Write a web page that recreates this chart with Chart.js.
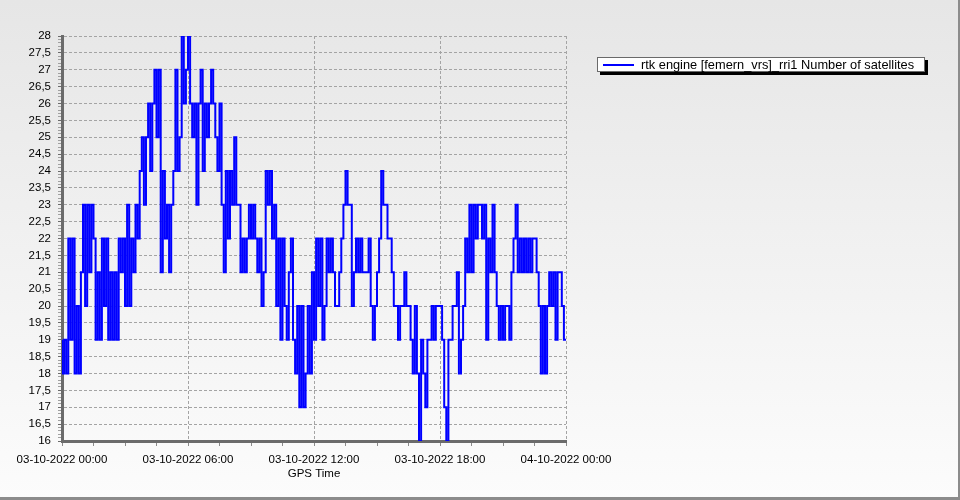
<!DOCTYPE html>
<html lang="en">
<head>
    <meta charset="UTF-8">
    <title>Number of satellites</title>
    <script src="https://cdn.jsdelivr.net/npm/chart.js"></script>
    <style>
        html, body { margin: 0; padding: 0; }
        #chart-container {
            width: 960px;
            height: 500px;
            background: linear-gradient(#e6e6e6, #fcfcfc);
        }
    </style>
</head>
<body>

<div id="chart-container">
    <canvas id="satChart"></canvas>
</div>

<script>
    // Series: one value every 6 minutes, 03-10-2022 00:00 .. 04-10-2022 00:00
    const seriesLabel = 'rtk engine [femern_vrs]_rri1 Number of satellites';
    const xTitle = 'GPS Time';
    const startDay = 3;          // 03-10-2022
    const sampleStepHours = 0.1; // 6 minutes
    const sats = [
        19,18,19,18,22,19,22,18,20,18,
        21,23,20,23,21,23,22,19,21,19,
        22,20,22,19,21,19,21,19,22,21,
        22,20,23,20,22,21,23,22,24,25,
        23,25,26,24,26,27,25,27,21,24,
        22,23,21,23,24,27,24,25,28,26,
        27,28,26,25,26,23,26,27,24,26,
        25,26,27,26,25,24,26,23,21,24,
        22,24,23,25,23,23,21,22,21,22,
        23,22,23,22,21,22,20,21,24,23,
        24,22,23,20,22,19,22,20,19,21,
        22,19,18,20,17,20,17,18,20,18,
        21,19,22,20,22,19,20,22,21,22,
        21,20,20,21,22,23,24,23,23,20,
        21,22,21,22,21,21,21,22,20,19,
        20,21,22,24,23,23,22,22,21,20,
        20,19,20,20,21,20,20,19,18,20,
        18,16,19,18,17,19,19,20,19,20,
        20,20,19,17,16,19,19,20,20,21,
        18,19,20,22,21,23,21,23,22,23,
        23,22,23,19,22,21,23,21,20,19,
        20,19,20,20,19,21,22,23,21,22,
        21,22,21,22,21,22,22,21,20,18,
        20,18,20,21,20,21,19,21,21,20,19
    ];

    // axis ticks
    const xMin = 0, xMax = 24, xMajor = 6, xMinor = 1.5;
    const yMin = 16, yMax = 28, yMajor = 0.5, yMinor = 0.1;

    const isMultiple = (v, step) => Math.abs(v / step - Math.round(v / step)) < 1e-6;

    function timeLabel(h) {
        const day = startDay + Math.floor(h / 24);
        const hour = Math.round(h % 24);
        return String(day).padStart(2, '0') + '-10-2022 ' + String(hour).padStart(2, '0') + ':00';
    }

    // legend box with drop shadow, top right
    const legendBox = {
        id: 'legendBox',
        afterDraw(chart) {
            const ctx = chart.ctx;
            const ds = chart.data.datasets[0];
            ctx.save();
            ctx.fillStyle = '#000';
            ctx.fillRect(600, 60, 328, 15);
            ctx.fillStyle = '#fff';
            ctx.fillRect(597, 57, 328, 15);
            ctx.strokeStyle = '#6a6a6a';
            ctx.lineWidth = 1;
            ctx.strokeRect(597.5, 57.5, 327, 14);
            ctx.strokeStyle = ds.borderColor;
            ctx.lineWidth = 2;
            ctx.beginPath();
            ctx.moveTo(603, 65);
            ctx.lineTo(634, 65);
            ctx.stroke();
            ctx.fillStyle = '#000';
            ctx.font = '12.8px "Liberation Sans"';
            ctx.textBaseline = 'middle';
            ctx.fillText(ds.label, 641, 65);
            // frame of the picture
            ctx.fillStyle = '#8c8c8c';
            ctx.fillRect(0, 497, 960, 3);
            ctx.fillRect(958, 0, 2, 500);
            ctx.restore();
        }
    };

    Chart.defaults.font.family = '"Liberation Sans", Arial, sans-serif';
    Chart.defaults.font.size = 11;
    Chart.defaults.color = '#000';

    const ctx = document.getElementById('satChart').getContext('2d');
    const satChart = new Chart(ctx, {
        type: 'line',
        data: {
            datasets: [{
                label: seriesLabel,
                data: sats.map((v, i) => ({ x: i * sampleStepHours, y: v })),
                borderColor: '#0000ff',
                borderWidth: 2,
                stepped: 'after',
                pointRadius: 0,
                pointHoverRadius: 0,
                fill: false
            }]
        },
        options: {
            responsive: true,
            maintainAspectRatio: false,
            animation: false,
            layout: { padding: { left: 0, top: 36, right: 394, bottom: 9 } },
            plugins: {
                legend: { display: false },
                tooltip: { enabled: false }
            },
            scales: {
                x: {
                    type: 'linear',
                    min: xMin,
                    max: xMax,
                    afterFit: s => { s.height = 50; },
                    ticks: {
                        stepSize: xMinor,
                        autoSkip: false,
                        maxRotation: 0,
                        padding: 7,
                        font: { size: 11.5 },
                        callback: v => isMultiple(v, xMajor) ? timeLabel(v) : ''
                    },
                    grid: {
                        color: c => isMultiple(c.tick.value, xMajor) ? '#a4a4a4' : 'rgba(0,0,0,0)',
                        tickColor: '#8a8a8a',
                        tickLength: 5,
                        tickBorderDash: []
                    },
                    border: { color: '#6b6b6b', width: 3, dash: [3, 2] },
                    title: { display: true, text: xTitle, font: { size: 11.5 }, padding: { top: 0, bottom: 10 } }
                },
                y: {
                    min: yMin,
                    max: yMax,
                    afterFit: s => { s.width = 62; },
                    ticks: {
                        stepSize: yMinor,
                        autoSkip: false,
                        padding: 7,
                        font: { size: 11.5 },
                        callback: v => isMultiple(v, yMajor) ? String(Math.round(v * 2) / 2).replace('.', ',') : ''
                    },
                    grid: {
                        color: c => isMultiple(c.tick.value, yMajor) ? '#a4a4a4' : 'rgba(0,0,0,0)',
                        tickColor: c => isMultiple(c.tick.value, yMajor) ? '#6b6b6b' : '#a0a0a0',
                        tickLength: 4,
                        tickBorderDash: []
                    },
                    border: { color: '#6b6b6b', width: 3, dash: [3, 2] }
                }
            }
        },
        plugins: [legendBox]
    });
</script>

</body>
</html>
